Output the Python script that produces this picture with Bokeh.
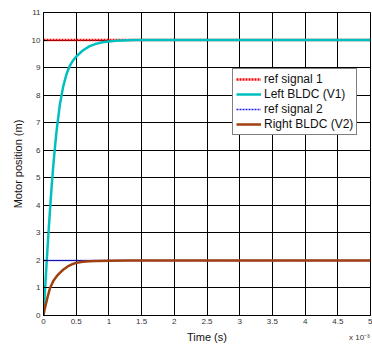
from bokeh.plotting import figure
from bokeh.models import FixedTicker, Legend, LegendItem, LinearAxis, Range1d
from bokeh.embed import file_html
from bokeh.resources import INLINE

# time in ms (axis shows x 10^-3 s)
t_ref = [0, 5]
ref1 = [10, 10]
ref2 = [2, 2]

t_left = [0, 0.025, 0.05, 0.075, 0.1, 0.125, 0.15, 0.175, 0.2, 0.25, 0.3, 0.35, 0.4,
          0.45, 0.5, 0.6, 0.7, 0.8, 0.9, 1.0, 1.1, 1.2, 1.4, 5.0]
v_left = [0, 1.0, 2.0, 2.95, 3.85, 4.7, 5.45, 6.1, 6.7, 7.65, 8.3, 8.75, 9.05,
          9.25, 9.4, 9.62, 9.77, 9.86, 9.92, 9.95, 9.97, 9.985, 10.0, 10.0]

t_right = [0, 0.015, 0.03, 0.06, 0.1, 0.15, 0.2, 0.25, 0.3, 0.37, 0.45, 0.5, 0.6,
           0.7, 0.8, 1.0, 1.3, 5.0]
v_right = [0, 0.2, 0.35, 0.65, 1.0, 1.25, 1.42, 1.55, 1.66, 1.78, 1.87, 1.91, 1.95,
           1.97, 1.98, 1.99, 2.0, 2.0]

x_ticks = [0, 0.5, 1, 1.5, 2, 2.5, 3, 3.5, 4, 4.5, 5]
x_tick_labels = ["0", "0.5", "1", "1.5", "2", "2.5", "3", "3.5", "4", "4.5", "5"]
y_ticks = list(range(0, 12))
x_multiplier_pos = [4.83]
x_multiplier_text = ["x 10\u207b\u00b3"]

FONT = "Liberation Sans"

p = figure(width=372, height=346, output_backend="svg", toolbar_location=None,
           x_range=Range1d(0, 5), y_range=Range1d(0, 11),
           min_border_left=43, min_border_right=2, min_border_top=12, min_border_bottom=31)

p.outline_line_color = "black"
p.outline_line_width = 1
p.background_fill_color = "white"
p.border_fill_color = "white"

for ax in (p.xaxis[0], p.yaxis[0]):
    ax.major_tick_in = 4
    ax.major_tick_out = 0
    ax.minor_tick_in = 0
    ax.minor_tick_out = 0
    ax.axis_line_color = "black"
    ax.major_tick_line_color = "black"
    ax.major_label_text_font = FONT
    ax.major_label_text_font_size = "8px"
    ax.major_label_text_color = "#333333"
    ax.axis_label_text_font = FONT
    ax.axis_label_text_font_size = "11px"
    ax.axis_label_text_font_style = "normal"
    ax.axis_label_text_color = "#111111"

p.xaxis[0].ticker = FixedTicker(ticks=x_ticks)
p.xaxis[0].major_label_overrides = {t: l for t, l in zip(x_ticks, x_tick_labels)}
p.xaxis[0].major_label_standoff = 3
p.xaxis[0].axis_label = "Time (s)"
p.xaxis[0].axis_label_standoff = 4
p.yaxis[0].ticker = FixedTicker(ticks=y_ticks)
p.yaxis[0].major_label_standoff = 3
p.yaxis[0].axis_label = "Motor position (m)"
p.yaxis[0].axis_label_standoff = 5

# multiplier note "x 10^-3" as a label-only second axis below
mult_axis = LinearAxis(ticker=FixedTicker(ticks=x_multiplier_pos),
                       major_label_overrides={t: s for t, s in zip(x_multiplier_pos, x_multiplier_text)})
mult_axis.axis_line_color = None
mult_axis.major_tick_line_color = None
mult_axis.minor_tick_line_color = None
mult_axis.major_tick_in = 0
mult_axis.major_tick_out = 0
mult_axis.minor_tick_in = 0
mult_axis.minor_tick_out = 0
mult_axis.major_label_standoff = -13
mult_axis.major_label_text_font = FONT
mult_axis.major_label_text_font_size = "8px"
mult_axis.major_label_text_color = "#333333"
p.add_layout(mult_axis, "below")

p.xgrid.ticker = FixedTicker(ticks=x_ticks)
p.ygrid.ticker = FixedTicker(ticks=y_ticks)
p.grid.grid_line_color = "black"
p.grid.grid_line_width = 1
p.grid.grid_line_alpha = 1.0

r1 = p.line(t_ref, ref1, line_color="#ff0000", line_width=2.5, line_dash="2 1")
r2 = p.line(t_left, v_left, line_color="#00bfbf", line_width=2.5)
r3 = p.line(t_ref, ref2, line_color="#2020ff", line_width=1.5, line_dash="2 1")
r4 = p.line(t_right, v_right, line_color="#a0400f", line_width=2.5)

legend = Legend(items=[
    LegendItem(label="ref signal 1", renderers=[r1]),
    LegendItem(label="Left BLDC (V1)", renderers=[r2]),
    LegendItem(label="ref signal 2", renderers=[r3]),
    LegendItem(label="Right BLDC (V2)", renderers=[r4]),
], location=(189, 180))
legend.label_text_font = FONT
legend.label_text_font_size = "12px"
legend.label_text_color = "#111111"
legend.label_height = 14
legend.glyph_height = 14
legend.glyph_width = 25
legend.label_standoff = 3
legend.spacing = 1
legend.padding = 3
legend.margin = 0
legend.border_line_color = "black"
legend.border_line_width = 1
legend.background_fill_color = "white"
legend.background_fill_alpha = 1.0
p.add_layout(legend, "center")

open("out.html", "w").write(file_html(p, INLINE))
